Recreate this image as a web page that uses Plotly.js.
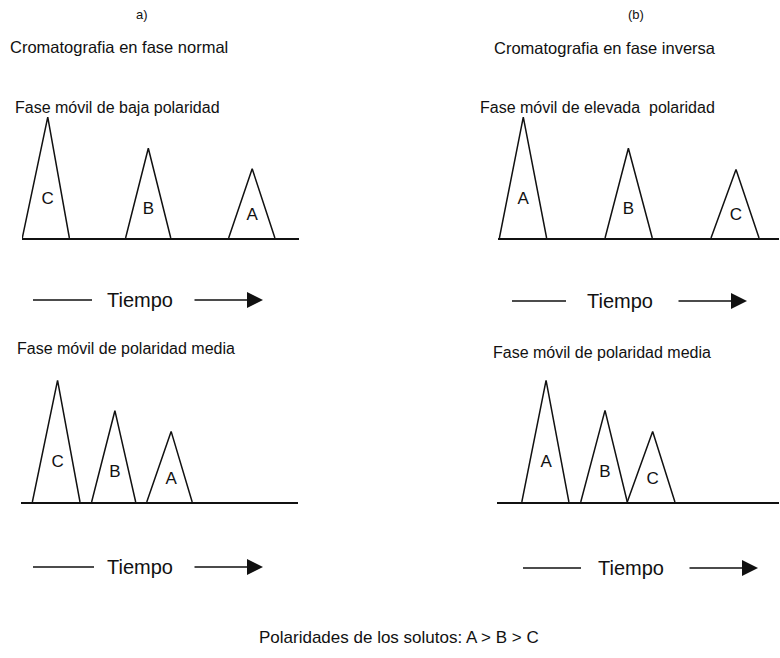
<!DOCTYPE html>
<html>
<head>
<meta charset="utf-8">
<script src="https://cdn.plot.ly/plotly-3.0.1.min.js"></script>
<style>
  html, body { margin: 0; padding: 0; background: #fff; }
  #chart { width: 780px; height: 658px; }
</style>
</head>
<body>
<div id="chart"></div>
<script>
// Idealised chromatograms: each peak is a triangle (start, apex, end, height)
// on a relative time axis of 0-100 and a relative detector response of 0-130.

// (a) Normal phase, low-polarity mobile phase
const normalLowNames  = ['C', 'B', 'A'];
const normalLowStart  = [0.1, 37.4, 74.6];
const normalLowApex   = [9.3, 45.6, 83.1];
const normalLowEnd    = [17.1, 53.7, 91.3];
const normalLowHeight = [120.8, 89.8, 69.2];

// (b) Reversed phase, high-polarity mobile phase
const reverseHighNames  = ['A', 'B', 'C'];
const reverseHighStart  = [0.5, 38.1, 75.8];
const reverseHighApex   = [9.0, 46.4, 84.7];
const reverseHighEnd    = [17.3, 54.9, 92.9];
const reverseHighHeight = [120.8, 89.8, 68.4];

// (a) Normal phase, medium-polarity mobile phase
const normalMidNames  = ['C', 'B', 'A'];
const normalMidStart  = [4.1, 25.5, 45.4];
const normalMidApex   = [13.2, 33.9, 54.2];
const normalMidEnd    = [21.3, 41.4, 61.8];
const normalMidHeight = [121.6, 91.3, 70.6];

// (b) Reversed phase, medium-polarity mobile phase
const reverseMidNames  = ['A', 'B', 'C'];
const reverseMidStart  = [8.8, 29.7, 46.2];
const reverseMidApex   = [17.4, 38.3, 55.2];
const reverseMidEnd    = [25.5, 46.2, 63.1];
const reverseMidHeight = [121.6, 91.6, 70.6];

const W = 780, H = 658;
const FONT = 'Liberation Sans, Arial, Helvetica, sans-serif';
const INK = '#111';

// pixel helpers for layout placement
const px = v => v / W;
const py = v => 1 - v / H;

const panels = [
  { names: normalLowNames,  start: normalLowStart,  apex: normalLowApex,  end: normalLowEnd,  height: normalLowHeight,  x0: 22,  x1: 299, base: 238 },
  { names: reverseHighNames, start: reverseHighStart, apex: reverseHighApex, end: reverseHighEnd, height: reverseHighHeight, x0: 498, x1: 779, base: 238 },
  { names: normalMidNames,  start: normalMidStart,  apex: normalMidApex,  end: normalMidEnd,  height: normalMidHeight,  x0: 21,  x1: 298, base: 502 },
  { names: reverseMidNames, start: reverseMidStart, apex: reverseMidApex, end: reverseMidEnd, height: reverseMidHeight, x0: 497, x1: 779, base: 502 }
];

const Y_TOP = 130;   // response-axis span, in pixels of plot height
const traces = [];
const layout = {
  width: W, height: H,
  margin: { l: 0, r: 0, t: 0, b: 0 },
  paper_bgcolor: '#fff', plot_bgcolor: 'rgba(0,0,0,0)',
  showlegend: false,
  font: { family: FONT, color: INK },
  annotations: [],
  shapes: []
};

panels.forEach((p, i) => {
  const n = i === 0 ? '' : String(i + 1);
  const xa = 'x' + n, ya = 'y' + n;

  layout['xaxis' + n] = {
    domain: [px(p.x0), px(p.x1)],
    range: [0, 100],
    anchor: ya,
    showline: true, linecolor: INK, linewidth: 2,
    showgrid: false, zeroline: false, ticks: '', showticklabels: false,
    fixedrange: true
  };
  layout['yaxis' + n] = {
    domain: [py(p.base), py(p.base - Y_TOP)],
    range: [0, Y_TOP],
    anchor: xa,
    visible: false,
    fixedrange: true
  };

  // peak outlines
  p.names.forEach((name, k) => {
    traces.push({
      type: 'scatter', mode: 'lines',
      x: [p.start[k], p.apex[k], p.end[k]],
      y: [0, p.height[k], 0],
      xaxis: xa, yaxis: ya,
      line: { color: INK, width: 1.5 },
      cliponaxis: false,
      hoverinfo: 'skip'
    });
  });

  // solute letters inside the peaks
  traces.push({
    type: 'scatter', mode: 'text',
    x: p.apex,
    y: p.height.map(h => h * 0.32),
    text: p.names,
    textposition: 'middle center',
    textfont: { family: FONT, size: 17, color: INK },
    xaxis: xa, yaxis: ya,
    hoverinfo: 'skip'
  });
});

function label(text, x, y, size) {
  layout.annotations.push({
    text: text, xref: 'paper', yref: 'paper',
    x: px(x), y: py(y), xanchor: 'center', yanchor: 'middle',
    showarrow: false, font: { family: FONT, size: size, color: INK }
  });
}

// column and row headings
label('a)', 142, 14, 13);
label('(b)', 636, 14, 13);
label('Cromatografia en fase normal', 119, 47, 16.5);
label('Cromatografia en fase inversa', 605, 48, 16.5);
label('Fase móvil de baja polaridad', 118, 107, 16);
label('Fase móvil de elevada\u00a0 polaridad', 597, 107, 16);
label('Fase móvil de polaridad media', 126, 348, 16);
label('Fase móvil de polaridad media', 602, 352, 16);
label('Polaridades de los solutos: A > B > C', 399, 637, 17);

// "—— Tiempo ——>" direction markers under each chromatogram
const timeRows = [
  { y: 300, dash: [33, 92],  text: 140, arrow: [193, 263] },
  { y: 301, dash: [512, 566], text: 620, arrow: [677, 747] },
  { y: 567, dash: [33, 94],  text: 140, arrow: [193, 263] },
  { y: 568, dash: [523, 581], text: 631, arrow: [688, 758] }
];
timeRows.forEach(r => {
  layout.shapes.push({
    type: 'line', xref: 'paper', yref: 'paper',
    x0: px(r.dash[0]), x1: px(r.dash[1]), y0: py(r.y), y1: py(r.y),
    line: { color: INK, width: 1.6 }
  });
  label('Tiempo', r.text, r.y, 20);
  layout.annotations.push({
    xref: 'paper', yref: 'paper', x: px(r.arrow[1]), y: py(r.y),
    ax: -(r.arrow[1] - r.arrow[0]), ay: 0,
    text: '', showarrow: true,
    arrowhead: 2, arrowsize: 2, arrowwidth: 1.6, arrowcolor: INK,
    standoff: 0
  });
});

Plotly.newPlot('chart', traces, layout, { staticPlot: true, displayModeBar: false });
</script>
</body>
</html>
